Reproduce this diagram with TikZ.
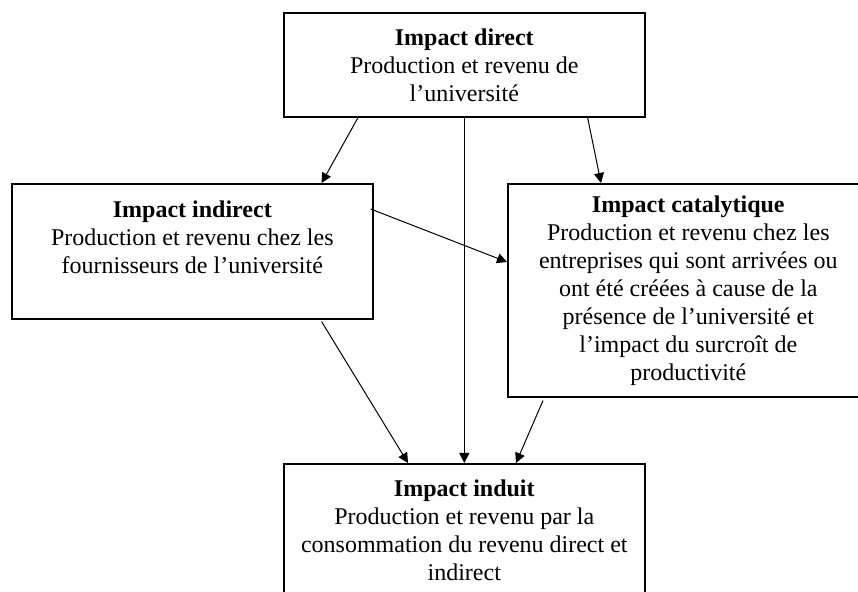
\documentclass[tikz,border=0pt]{standalone}
\usepackage{fontspec}
\setmainfont{Liberation Serif}
\usepackage{tikz}
\usetikzlibrary{arrows.meta,positioning}

\begin{document}
\begin{tikzpicture}[
    x=0.5pt, y=-0.5pt,
    box/.style={draw, line width=0.8pt, rectangle, anchor=north west, align=center, inner sep=0pt, minimum width=180.5pt, font=\fontsize{12pt}{14pt}\selectfont},
    flow/.style={-{Triangle[length=5pt,width=5pt]}, line width=0.5pt}
]
    \useasboundingbox (0,0) rectangle (858,592);

    \node[box, minimum height=52pt] (direct) at (283,12) {\textbf{Impact direct}\\Production et revenu de\\l’université};
    \node[box, minimum height=67.5pt] (indirect) at (11,183) {\textbf{Impact indirect}\\Production et revenu chez les\\fournisseurs de l’université\\ \mbox{}};
    \node[box, minimum height=106.5pt] (catal) at (507,183) {\textbf{Impact catalytique}\\Production et revenu chez les\\entreprises qui sont arrivées ou\\ont été créées à cause de la\\présence de l’université et\\l’impact du surcroît de\\productivité};
    \node[box, minimum height=66pt] (induit) at (283,463) {\textbf{Impact induit}\\Production et revenu par la\\consommation du revenu direct et\\indirect};

    \draw[flow] ([xshift=37.5pt]direct.south west) -- ([xshift=-26pt]indirect.north east);
    \draw[flow] ([xshift=-29pt]direct.south east) -- ([xshift=47pt]catal.north west);
    \draw[flow] (direct.south) -- (induit.north);
    \draw[flow] ([xshift=-1.5pt,yshift=-13pt]indirect.north east) -- ([yshift=-39.5pt]catal.north west);
    \draw[flow] ([xshift=-26pt,yshift=-1pt]indirect.south east) -- ([xshift=62.5pt]induit.north west);
    \draw[flow] ([xshift=18pt,yshift=-1.5pt]catal.south west) -- ([xshift=116.5pt]induit.north west);
\end{tikzpicture}
\end{document}
